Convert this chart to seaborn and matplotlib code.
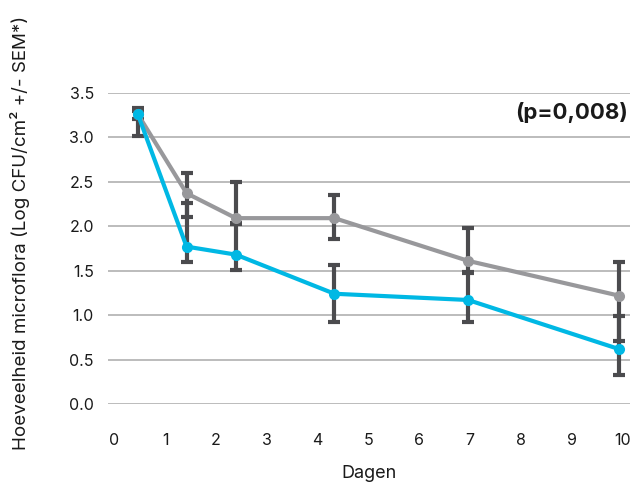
import numpy as np
import pandas as pd
import matplotlib
matplotlib.use("Agg")
import matplotlib.pyplot as plt
import seaborn as sns

# ========================
# Data
# ========================
dagen = [0.46, 1.42, 2.39, 4.33, 6.96, 9.92]

grijs_gem = [3.26, 2.37, 2.09, 2.09, 1.61, 1.22]
grijs_laag = [3.20, 2.10, 2.03, 1.85, 1.48, 0.71]
grijs_hoog = [3.33, 2.60, 2.50, 2.35, 1.98, 1.60]

blauw_gem = [3.26, 1.77, 1.68, 1.24, 1.17, 0.62]
blauw_laag = [3.01, 1.60, 1.51, 0.92, 0.92, 0.33]
blauw_hoog = [3.30, 2.26, 2.02, 1.56, 1.47, 0.99]

x_ticks = list(range(0, 11))
y_ticks = [0.0, 0.5, 1.0, 1.5, 2.0, 2.5, 3.0, 3.5]

# ========================
# Style
# ========================
sns.set_theme(style="white")
plt.rcParams['font.family'] = ['Inter', 'DejaVu Sans']

GRIJS = "#98989b"
BLAUW = "#00b8e4"
FOUT = "#4b4b4e"
TEKST = "#1a1a1a"

df = pd.DataFrame({
    "Dagen": dagen * 2,
    "Waarde": grijs_gem + blauw_gem,
    "Groep": ["grijs"] * len(dagen) + ["blauw"] * len(dagen),
})

fig = plt.figure(figsize=(6.34, 4.88), dpi=100)
ax = fig.add_axes([0.170, 0.172, 0.824, 0.638])

# foutbalken achter de lijnen
for gem, laag, hoog in [(grijs_gem, grijs_laag, grijs_hoog), (blauw_gem, blauw_laag, blauw_hoog)]:
    gem = np.array(gem)
    yerr = [gem - np.array(laag), np.array(hoog) - gem]
    ax.errorbar(dagen, gem, yerr=yerr, fmt="none", ecolor=FOUT,
                elinewidth=3, capsize=4.3, capthick=3, zorder=2)

sns.lineplot(data=df, x="Dagen", y="Waarde", hue="Groep",
             palette={"grijs": GRIJS, "blauw": BLAUW},
             marker="o", markersize=8, markeredgewidth=0,
             linewidth=3, legend=False, ax=ax, zorder=3)

ax.set_xlim(-0.13, 10.15)
ax.set_ylim(0, 3.5)
ax.set_xticks(x_ticks)
ax.set_xticklabels([str(t) for t in x_ticks])
ax.set_yticks(y_ticks)
ax.set_yticklabels([f"{t:.1f}" for t in y_ticks])

ax.grid(axis="y", color="#aaaaaa", linewidth=1.1)
ax.grid(axis="x", visible=False)
for s in ax.spines.values():
    s.set_visible(False)
ax.set_axisbelow(True)

ax.tick_params(axis="both", length=0, labelsize=11.5, labelcolor=TEKST)
ax.tick_params(axis="x", pad=21)
ax.tick_params(axis="y", pad=10)

ax.set_xlabel("Dagen", fontsize=13, color=TEKST, labelpad=12)
ax.set_ylabel("")
fig.text(0.032, 0.523, "Hoeveelheid microflora (Log CFU/cm² +/- SEM*)",
         rotation=90, ha="center", va="center", fontsize=13.5, color=TEKST)

ax.text(0.995, 0.935, "(p=0,008)", transform=ax.transAxes,
        ha="right", va="center", fontsize=16, fontweight="bold", color=TEKST)

fig.savefig("out.png", dpi=100)
